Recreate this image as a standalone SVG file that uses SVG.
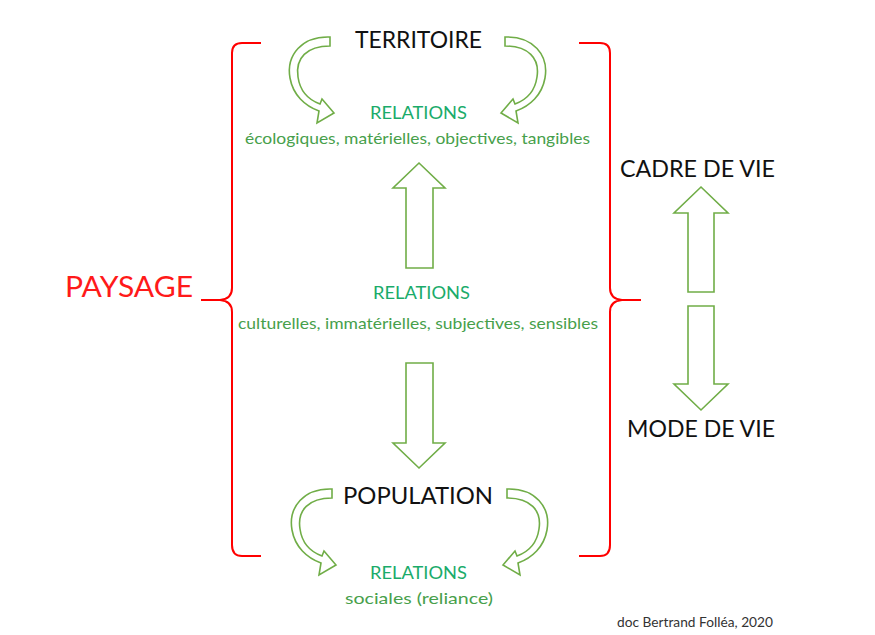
<svg xmlns="http://www.w3.org/2000/svg" width="875" height="635" viewBox="0 0 875 635">
<defs>
<style>
.t{font-family:Lato,"Liberation Sans",sans-serif;text-anchor:middle}
.big{font-size:24px;fill:#111}
.rel{font-size:18px;fill:#1aab6a}
.sub{font-size:16px;fill:#47a04b}
.pay{font-size:28px;fill:#ff1a1a}
.brace{fill:none;stroke:#ff0000;stroke-width:2;stroke-linejoin:round}
.arr{fill:#fff;stroke:#70ad47;stroke-width:1.6;stroke-linejoin:miter}
</style>
<path id="curv" d="M330,37 C302,36 286,55 290,78 C293,95 305,106 319,111 L317,123 L334,113 L322,99 L320,104 C309,100 300,91 298,77 C295,58 307,46 330,46 Z"/>
</defs>
<rect width="875" height="635" fill="#fff"/>

<g id="connectors">
<use href="#curv" class="arr"/>
<use href="#curv" class="arr" transform="translate(835,0) scale(-1,1)"/>
<use href="#curv" class="arr" transform="translate(2,452)"/>
<use href="#curv" class="arr" transform="translate(837,452) scale(-1,1)"/>
<path class="arr" d="M419,163 L445,188 L433,188 L433,268 L406,268 L406,188 L393,188 Z"/>
<path class="arr" d="M406,363 L433,363 L433,443 L445,443 L419,468 L393,443 L406,443 Z"/>
<path class="arr" d="M701,187 L728,213 L714,213 L714,292 L688,292 L688,213 L674,213 Z"/>
<path class="arr" d="M688,306 L714,306 L714,384 L728,384 L701,410 L674,384 L688,384 Z"/>
<path class="brace" d="M261,43 L242,43 Q232,43 232,53 L232,288 Q232,299 220,300 L201,300 M220,300 Q232,301 232,312 L232,545 Q232,556 242,556 L261,556"/>
<path class="brace" d="M579,43 L600,43 Q610,43 610,53 L610,288 Q610,299 622,300 L641,300 M622,300 Q610,301 610,312 L610,545 Q610,556 600,556 L579,556"/>
</g>

<g id="territoire">
<text class="t big" x="418.5" y="48" textLength="127" lengthAdjust="spacingAndGlyphs">TERRITOIRE</text>
</g>
<g id="relations-top">
<text class="t rel" x="418.5" y="119" textLength="97" lengthAdjust="spacingAndGlyphs">RELATIONS</text>
<text class="t sub" x="417.5" y="144" textLength="345" lengthAdjust="spacingAndGlyphs">écologiques, matérielles, objectives, tangibles</text>
</g>
<g id="relations-mid">
<text class="t rel" x="421.5" y="299" textLength="97" lengthAdjust="spacingAndGlyphs">RELATIONS</text>
<text class="t sub" x="418" y="329" textLength="360" lengthAdjust="spacingAndGlyphs">culturelles, immatérielles, subjectives, sensibles</text>
</g>
<g id="population">
<text class="t big" x="418" y="504" textLength="150" lengthAdjust="spacingAndGlyphs">POPULATION</text>
</g>
<g id="relations-bottom">
<text class="t rel" x="418.5" y="579" textLength="97" lengthAdjust="spacingAndGlyphs">RELATIONS</text>
<text class="t sub" x="419" y="604" textLength="148" lengthAdjust="spacingAndGlyphs">sociales (reliance)</text>
</g>
<g id="cadre-de-vie">
<text class="t big" x="697.5" y="177" textLength="155" lengthAdjust="spacingAndGlyphs">CADRE DE VIE</text>
</g>
<g id="mode-de-vie">
<text class="t big" x="701" y="437" textLength="148" lengthAdjust="spacingAndGlyphs">MODE DE VIE</text>
</g>
<g id="paysage">
<text class="t pay" x="129" y="297" textLength="128" lengthAdjust="spacingAndGlyphs">PAYSAGE</text>
</g>
<g id="credit">
<text x="617" y="627" font-family="Lato, 'Liberation Sans', sans-serif" font-size="13" fill="#333" textLength="156" lengthAdjust="spacingAndGlyphs">doc Bertrand Folléa, 2020</text>
</g>
</svg>
